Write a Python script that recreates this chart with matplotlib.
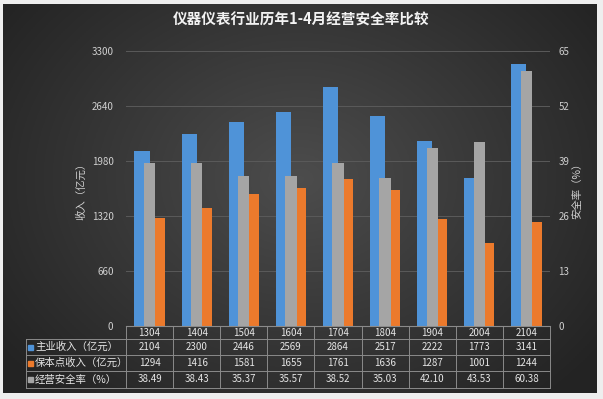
import numpy as np
import matplotlib
matplotlib.use("Agg")
import matplotlib.pyplot as plt
from matplotlib.transforms import blended_transform_factory
from matplotlib.patches import Rectangle

plt.rcParams['font.family'] = ['Noto Sans CJK SC', 'DejaVu Sans']

categories = ['1304', '1404', '1504', '1604', '1704', '1804', '1904', '2004', '2104']
income = [2104, 2300, 2446, 2569, 2864, 2517, 2222, 1773, 3141]
breakeven = [1294, 1416, 1581, 1655, 1761, 1636, 1287, 1001, 1244]
safety = [38.49, 38.43, 35.37, 35.57, 38.52, 35.03, 42.10, 43.53, 60.38]
series_names = ['主业收入（亿元）', '保本点收入（亿元）', '经营安全率（%）']
left_ticks = [0, 660, 1320, 1980, 2640, 3300]
right_ticks = [0, 13, 26, 39, 52, 65]

W, H = 603, 399
fig = plt.figure(figsize=(W / 100, H / 100), dpi=100)
fig.patch.set_facecolor('#eeeeee')

def fx(px):
    return px / W

def fy(py):
    return 1 - py / H

# dark radial gradient background
bg = fig.add_axes([fx(3), fy(393), fx(597) - fx(3), fy(4) - fy(393)])
bg.set_axis_off()
yy, xx = np.mgrid[0:1:200j, 0:1:300j]
r = np.sqrt(((xx - 0.5) / 0.62) ** 2 + ((yy - 0.55) / 0.75) ** 2)
r = np.clip(r, 0, 1)
light = np.array([0.30, 0.30, 0.30])
dark = np.array([0.14, 0.14, 0.14])
img = light[None, None, :] * (1 - r[..., None]) + dark[None, None, :] * r[..., None]
bg.imshow(img, aspect='auto', extent=[0, 1, 0, 1], origin='lower')
bg.set_xlim(0, 1)
bg.set_ylim(0, 1)

# main axes
ax_left, ax_right, ax_top, ax_bot = 126, 550, 51, 326
ax = fig.add_axes([fx(ax_left), fy(ax_bot), fx(ax_right) - fx(ax_left), fy(ax_top) - fy(ax_bot)])
ax.patch.set_alpha(0)
x = np.arange(len(categories))
bw = 0.32
ax.bar(x - bw / 2, income, width=bw, color='#4f93d8', zorder=2)
ax.bar(x + bw / 2, breakeven, width=bw, color='#ec7a2c', zorder=2)
ax.set_xlim(-0.5, len(categories) - 0.5)
ax.set_ylim(0, 3300)
ax.set_yticks(left_ticks)
ax.set_yticklabels([str(t) for t in left_ticks])
ax.grid(axis='y', color='#5a5a5a', linewidth=0.7, zorder=0)
ax.set_axisbelow(True)
ax.set_xticks([])
for s in ['top', 'right', 'left']:
    ax.spines[s].set_visible(False)
ax.spines['bottom'].set_color('#8c8c8c')
ax.tick_params(axis='y', length=0, colors='#d0d0d0', labelsize=7, pad=9)
ax.set_ylabel('收入（亿元）', color='#d0d0d0', fontsize=7.5, labelpad=4)

ax2 = ax.twinx()
ax2.patch.set_alpha(0)
ax2.bar(x, safety, width=0.24, color='#a5a5a5', zorder=3)
ax2.set_ylim(0, 65)
ax2.set_yticks(right_ticks)
ax2.set_yticklabels([str(t) for t in right_ticks])
for s in ['top', 'right', 'left', 'bottom']:
    ax2.spines[s].set_visible(False)
ax2.tick_params(axis='y', length=0, colors='#d0d0d0', labelsize=7, pad=6)
ax2.set_ylabel('安全率（%）', color='#d0d0d0', fontsize=7.5, labelpad=2, rotation=90)

# title
fig.text(0.5, fy(20), '仪器仪表行业历年1-4月经营安全率比较', ha='center', va='center',
         color='#f2f2f2', fontsize=10.5, fontweight='bold')

# data table below
tr = blended_transform_factory(ax.transData, fig.transFigure)
lc = '#8a8a8a'
row_edges = [326, 339, 355, 371, 388]
n = len(categories)
for i in range(n + 1):
    xb = i - 0.5
    fig.add_artist(plt.Line2D([xb, xb], [fy(row_edges[0]), fy(row_edges[-1])], transform=tr,
                              color=lc, linewidth=0.7))
for j, ye in enumerate(row_edges):
    x0 = fx(26) if j >= 1 else fx(ax_left)
    fig.add_artist(plt.Line2D([x0, fx(ax_right)], [fy(ye), fy(ye)], transform=fig.transFigure,
                              color=lc, linewidth=0.7))
fig.add_artist(plt.Line2D([fx(26), fx(26)], [fy(row_edges[1]), fy(row_edges[-1])],
                          transform=fig.transFigure, color=lc, linewidth=0.7))

txt_color = '#e6e6e6'
for i, c in enumerate(categories):
    fig.text(i, fy((row_edges[0] + row_edges[1]) / 2), c, transform=tr, ha='center', va='center',
             color=txt_color, fontsize=7)
rows = [[str(v) for v in income], [str(v) for v in breakeven], ['%.2f' % v for v in safety]]
key_colors = ['#4f93d8', '#ec7a2c', '#a5a5a5']
for j, vals in enumerate(rows):
    yc = fy((row_edges[j + 1] + row_edges[j + 2]) / 2)
    for i, v in enumerate(vals):
        fig.text(i, yc, v, transform=tr, ha='center', va='center', color=txt_color, fontsize=7)
    fig.add_artist(Rectangle((fx(28), yc - 2.5 / H), 5 / W, 5 / H, transform=fig.transFigure,
                             color=key_colors[j]))
    fig.text(fx(35), yc, series_names[j], ha='left', va='center', color=txt_color, fontsize=7.5)

fig.savefig('out.png', dpi=100, facecolor=fig.get_facecolor())
